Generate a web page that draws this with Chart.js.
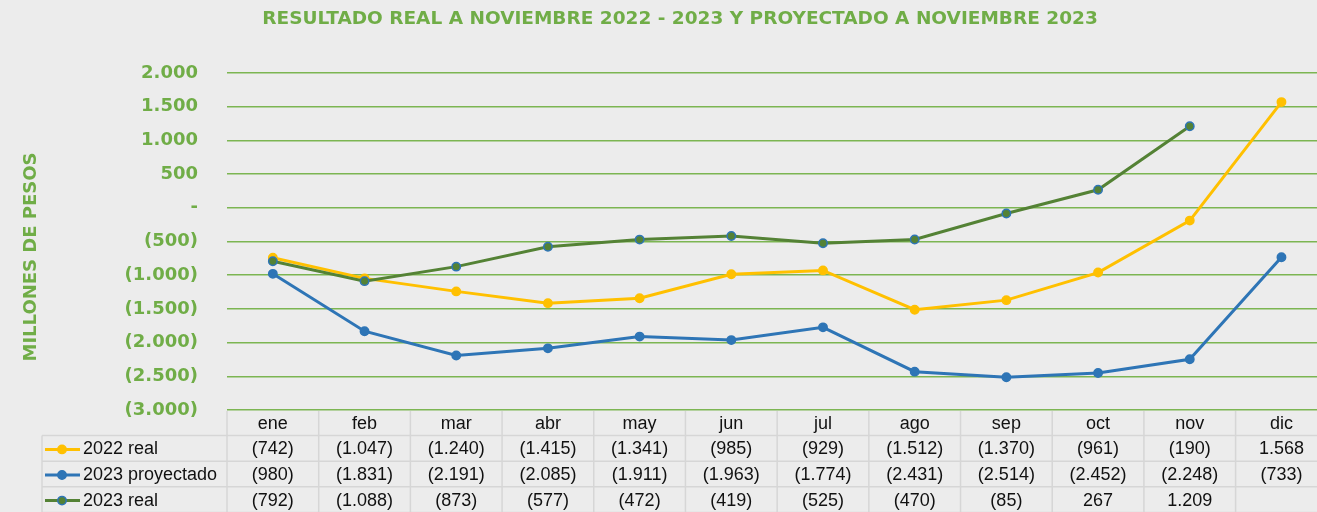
<!DOCTYPE html>
<html>
<head>
<meta charset="utf-8">
<script src="https://cdn.jsdelivr.net/npm/chart.js@4.4.0/dist/chart.umd.min.js"></script>
<style>
  html, body { margin: 0; padding: 0; background: #ececec; overflow: hidden; }
  #wrap { width: 1333px; height: 512px; position: relative; }
</style>
</head>
<body>
<div id="wrap"><canvas id="chartResultado"></canvas></div>
<script>
const meses        = ['ene', 'feb', 'mar', 'abr', 'may', 'jun', 'jul', 'ago', 'sep', 'oct', 'nov', 'dic'];
const real2022     = [-742, -1047, -1240, -1415, -1341, -985, -929, -1512, -1370, -961, -190, 1568];
const proyect2023  = [-980, -1831, -2191, -2085, -1911, -1963, -1774, -2431, -2514, -2452, -2248, -733];
const real2023     = [-792, -1088, -873, -577, -472, -419, -525, -470, -85, 267, 1209, null];
const titulo       = 'RESULTADO REAL A NOVIEMBRE 2022 - 2023 Y PROYECTADO A NOVIEMBRE 2023';
const tituloEje    = 'MILLONES DE PESOS';

const verde    = '#70ad47';
const amarillo = '#ffc000';
const azul     = '#2e75b6';
const verdeOsc = '#548235';

// formato contable: miles con punto, negativos entre paréntesis, cero como guion
function fmt(v) {
    if (v === null || v === undefined) return '';
    if (v === 0) return '-';
    const s = String(Math.abs(v)).replace(/\B(?=(\d{3})+(?!\d))/g, '.');
    return v < 0 ? '(' + s + ')' : s;
}

const series = [
    { label: '2022 real',       data: real2022,    color: amarillo, borde: amarillo, order: 3 },
    { label: '2023 proyectado', data: proyect2023, color: azul,     borde: azul,     order: 2 },
    { label: '2023 real',       data: real2023,    color: verdeOsc, borde: azul,     order: 1 }
];

const tablaPlugin = {
    id: 'tabla',
    afterDraw(chart) {
        const ctx = chart.ctx;
        const x = chart.scales.x;
        const area = chart.chartArea;
        const colW = x.getPixelForValue(1) - x.getPixelForValue(0);
        const left0 = x.getPixelForValue(0) - colW / 2;
        const top = area.bottom;
        const rowH = 25.6;
        const legLeft = 42;

        ctx.save();
        // título
        ctx.fillStyle = verde;
        ctx.font = 'bold 18.5px "DejaVu Sans"';
        ctx.textAlign = 'center';
        ctx.textBaseline = 'middle';
        ctx.fillText(titulo, 680, 19);

        // título eje Y
        ctx.save();
        ctx.translate(31, 257);
        ctx.rotate(-Math.PI / 2);
        ctx.font = 'bold 18px "DejaVu Sans"';
        ctx.fillText(tituloEje, 0, 0);
        ctx.restore();

        // bordes de la tabla
        ctx.strokeStyle = '#d6d6d6';
        ctx.lineWidth = 1.5;
        ctx.beginPath();
        for (let r = 1; r <= 4; r++) {
            const y = top + r * rowH;
            ctx.moveTo(legLeft, y);
            ctx.lineTo(chart.width, y);
        }
        for (let c = 0; c <= 12; c++) {
            const xx = left0 + c * colW;
            ctx.moveTo(xx, top + 1);
            ctx.lineTo(xx, chart.height);
        }
        ctx.moveTo(legLeft, top + rowH);
        ctx.lineTo(legLeft, chart.height);
        ctx.stroke();

        // encabezados
        ctx.fillStyle = '#111';
        ctx.font = '18px "Liberation Sans", Arial, sans-serif';
        meses.forEach((m, i) => ctx.fillText(m, x.getPixelForValue(i), top + rowH / 2 + 1));

        // filas
        series.forEach((s, r) => {
            const cy = top + (r + 1.5) * rowH + 1;
            // marcador de leyenda
            ctx.strokeStyle = s.color;
            ctx.lineWidth = 3;
            ctx.beginPath();
            ctx.moveTo(45, cy);
            ctx.lineTo(80, cy);
            ctx.stroke();
            ctx.beginPath();
            ctx.arc(62, cy, 4.2, 0, Math.PI * 2);
            ctx.fillStyle = s.color;
            ctx.fill();
            ctx.lineWidth = 1.5;
            ctx.strokeStyle = s.borde;
            ctx.stroke();

            ctx.fillStyle = '#111';
            ctx.textAlign = 'left';
            ctx.fillText(s.label, 83, cy);
            ctx.textAlign = 'center';
            s.data.forEach((v, i) => ctx.fillText(fmt(v), x.getPixelForValue(i), cy));
        });
        ctx.restore();
    }
};

new Chart(document.getElementById('chartResultado'), {
    type: 'line',
    data: {
        labels: meses,
        datasets: series.map(s => ({
            label: s.label,
            data: s.data,
            borderColor: s.color,
            backgroundColor: s.color,
            pointBackgroundColor: s.color,
            pointBorderColor: s.borde,
            pointBorderWidth: 1.5,
            pointRadius: 4.2,
            borderWidth: 3,
            tension: 0,
            order: s.order,
            spanGaps: false
        }))
    },
    options: {
        responsive: true,
        maintainAspectRatio: false,
        animation: false,
        layout: { padding: { top: 73, bottom: 102, left: 0, right: 0 } },
        plugins: { legend: { display: false }, tooltip: { enabled: false } },
        scales: {
            x: { display: false, offset: true },
            y: {
                min: -3000,
                max: 2000,
                afterFit(scale) { scale.width = 227; },
                border: { display: false },
                grid: { color: '#7cb552', lineWidth: 1.5, drawTicks: false },
                ticks: {
                    stepSize: 500,
                    padding: 29,
                    color: verde,
                    font: { family: 'DejaVu Sans', size: 18, weight: 'bold' },
                    callback: v => fmt(v)
                }
            }
        }
    },
    plugins: [tablaPlugin]
});
</script>
</body>
</html>
